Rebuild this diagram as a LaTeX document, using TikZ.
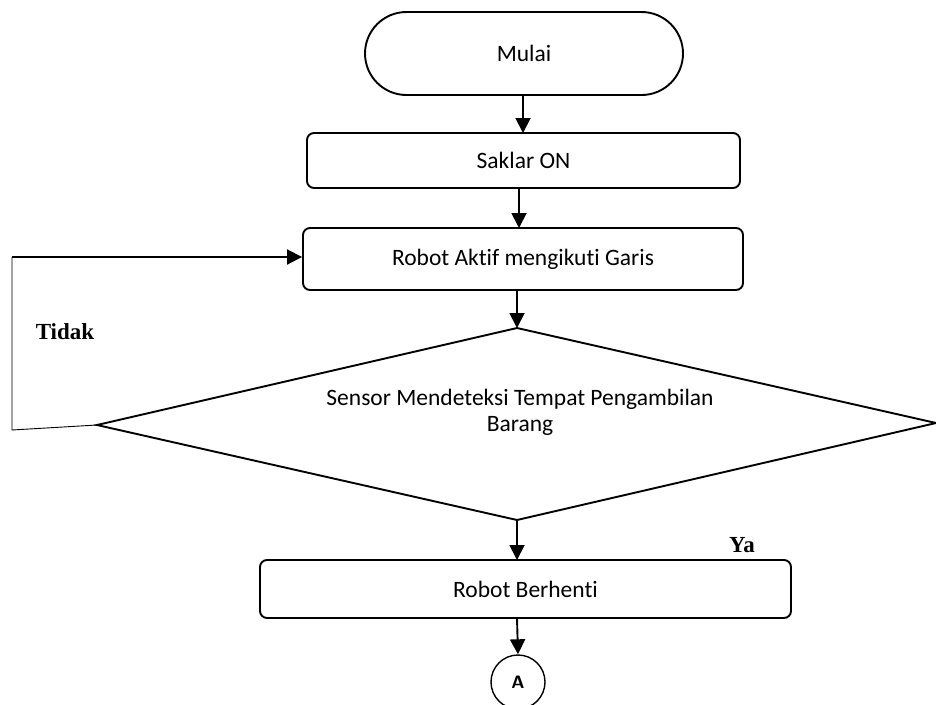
\documentclass[tikz,border=0pt]{standalone}
\usepackage{fontspec}
\setmainfont{Carlito}[Ligatures=NoCommon]
\newfontfamily\serifb{Liberation Serif}
\usetikzlibrary{arrows.meta,shapes.geometric}
\begin{document}
\begin{tikzpicture}[x=1pt,y=-1pt,
  every node/.style={font=\fontsize{23.5}{26}\selectfont},
  procbox/.style={draw,line width=1.9pt,rounded corners=7pt,inner sep=0pt},
  arr/.style={line width=1.9pt,-{Triangle[length=15pt,width=15pt]}},
  lbl/.style={font=\serifb\bfseries\fontsize{23}{27}\selectfont}]
\useasboundingbox (0,0) rectangle (936,704);
% terminal
\node[draw,line width=1.9pt,minimum width=318pt,minimum height=83pt,rounded corners=41.5pt,inner sep=0pt] (start) at (524,53.5) {Mulai};
\node[procbox,minimum width=433pt,minimum height=55pt] (saklar) at (523.5,160.5) {Saklar ON};
\node[procbox,minimum width=440pt,minimum height=62pt] (aktif) at (523,259) {Robot Aktif mengikuti Garis};
\coordinate (dt) at (517,328);
\coordinate (dl) at (97,425);
\coordinate (dr) at (936,423);
\coordinate (db) at (517,520);
\draw[line width=1.9pt] (dt) -- (dr) -- (db) -- (dl) -- cycle;
\node[align=center] (sensor) at (520,412) {Sensor Mendeteksi Tempat Pengambilan\\Barang};
\node[procbox,minimum width=531pt,minimum height=58pt] (stop) at (525.5,589) {Robot Berhenti};
\node[draw,circle,line width=1.4pt,minimum size=54pt,inner sep=0pt,font=\sffamily\bfseries\fontsize{18}{20}\selectfont] (A) at (518,682) {A};
% arrows
\draw[arr] (523,95) -- (523,133);
\draw[arr] (519,188) -- (519,228);
\draw[arr] (517,290) -- (dt);
\draw[arr] (db) -- (517,560);
\draw[arr] (517,618) -- (A.north);
% loop
\coordinate (lb) at (12,430);
\coordinate (lt) at (12,257);
\draw[line width=0.9pt] (dl) -- (lb) -- (lt);
\draw[arr] (lt) -- (aktif.west |- lt);
% labels
\node[lbl] (tidak) at (65,332) {Tidak};
\node[lbl] (ya) at (742,545) {Ya};
\end{tikzpicture}
\end{document}
